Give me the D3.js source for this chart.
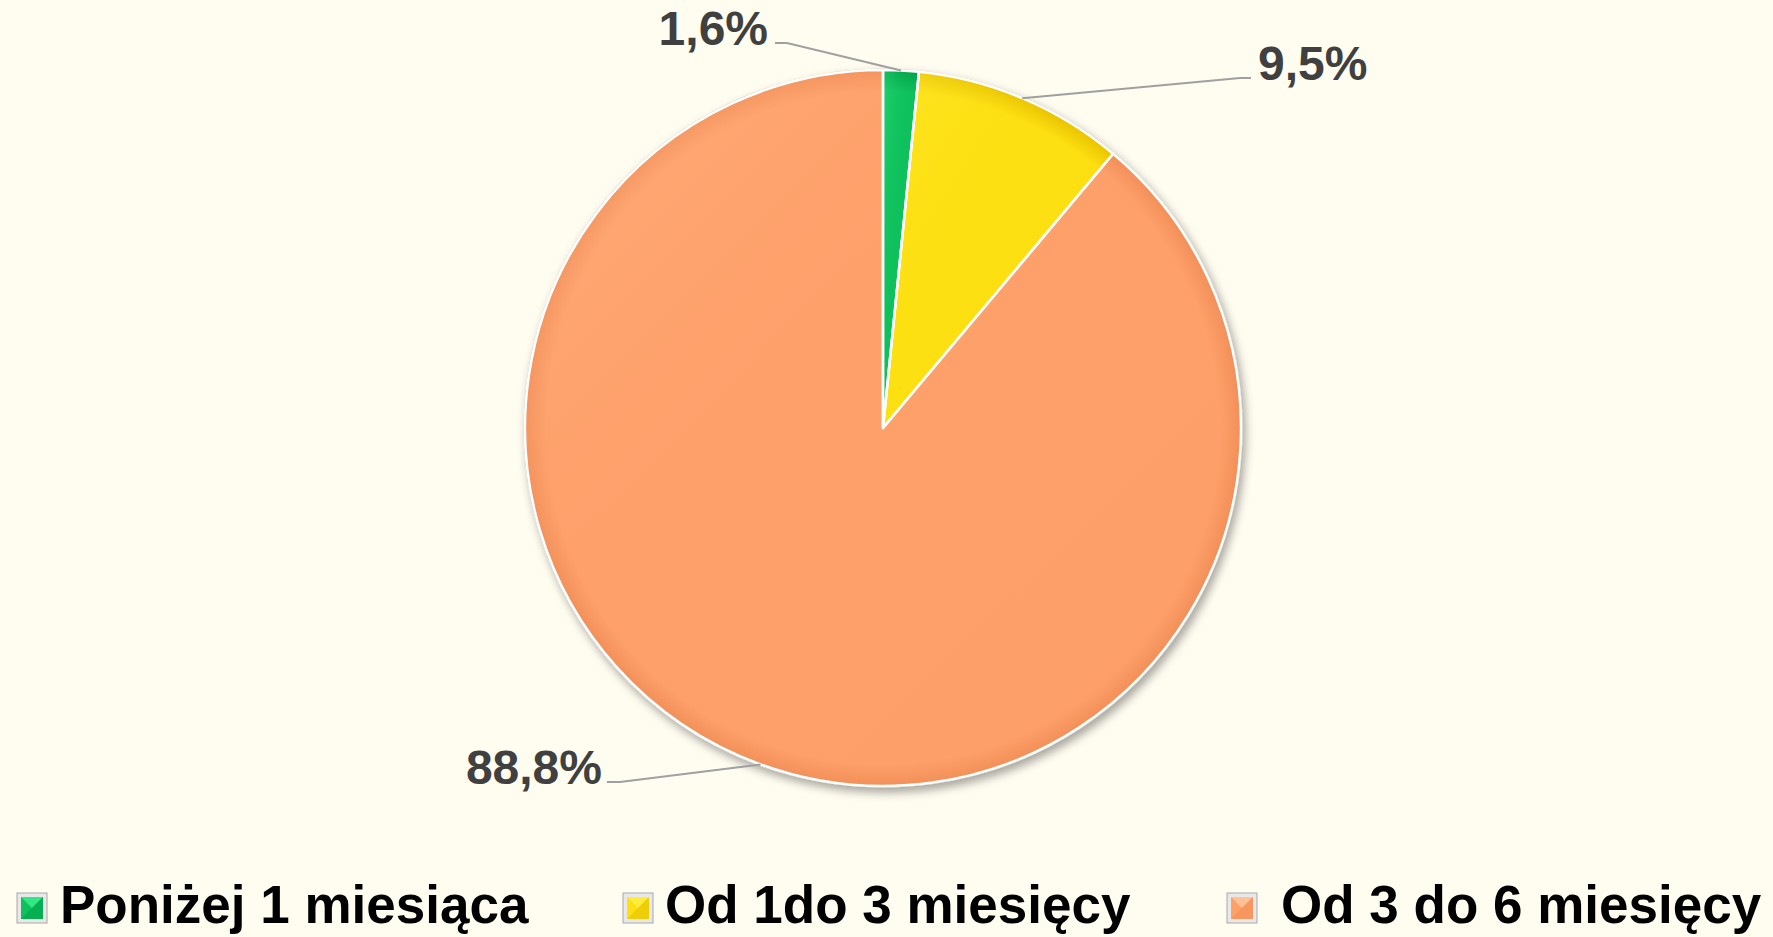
<!DOCTYPE html>
<html>
<head>
<meta charset="utf-8">
<script src="https://cdn.jsdelivr.net/npm/d3@7/dist/d3.min.js"></script>
<style>
html,body{margin:0;padding:0;background:#fffdf0;}
svg{display:block;}
</style>
</head>
<body>
<svg id="chart" width="1773" height="937"></svg>
<script>
// ---- data ----
const categories = ["Poniżej 1 miesiąca", "Od 1do 3 miesięcy", "Od 3 do 6 miesięcy"];
const values = [1.6, 9.5, 88.8];
const valueLabels = ["1,6%", "9,5%", "88,8%"];
const colors = ["#0fc15c", "#fde012", "#fea06a"];
const colorsDark = ["#00a34a", "#e8c200", "#f28f58"];
const colorsLight = ["#3ff08f", "#fff04a", "#ffc9a0"];

// ---- layout ----
const W = 1773, H = 937;
const cx = 883, cy = 428, R = 358;
const svg = d3.select("#chart");
svg.append("rect").attr("width", W).attr("height", H).attr("fill", "#fffdf0");

const defs = svg.append("defs");
const sh = defs.append("filter").attr("id", "shadow").attr("x", "-10%").attr("y", "-10%").attr("width", "120%").attr("height", "120%");
sh.append("feDropShadow").attr("dx", 3).attr("dy", 5).attr("stdDeviation", 5).attr("flood-color", "#000").attr("flood-opacity", 0.35);

values.forEach((v, i) => {
  const g = defs.append("radialGradient").attr("id", "rg" + i)
    .attr("gradientUnits", "userSpaceOnUse").attr("cx", 0).attr("cy", 0).attr("r", R);
  g.append("stop").attr("offset", "0%").attr("stop-color", colors[i]);
  g.append("stop").attr("offset", "94%").attr("stop-color", colors[i]);
  g.append("stop").attr("offset", "100%").attr("stop-color", colorsDark[i]);
  const lg = defs.append("linearGradient").attr("id", "lg" + i)
    .attr("x1", "0%").attr("y1", "0%").attr("x2", "100%").attr("y2", "100%");
  lg.append("stop").attr("offset", "0%").attr("stop-color", colorsLight[i]).attr("stop-opacity", 0.35);
  lg.append("stop").attr("offset", "45%").attr("stop-color", colors[i]).attr("stop-opacity", 0);
  lg.append("stop").attr("offset", "100%").attr("stop-color", colorsDark[i]).attr("stop-opacity", i === 2 ? 0.15 : 0.45);
});

const pie = d3.pie().sort(null).value(d => d);
const arcs = pie(values);
const arc = d3.arc().innerRadius(0).outerRadius(R);

const pg = svg.append("g").attr("transform", `translate(${cx},${cy})`);

// outer rim + shadow
pg.append("circle").attr("r", R + 1.5).attr("fill", "#c8c8c8").attr("filter", "url(#shadow)");

pg.selectAll("path.slice").data(arcs).enter().append("path")
  .attr("class", "slice")
  .attr("d", arc)
  .attr("fill", (d, i) => `url(#rg${i})`);

pg.selectAll("path.shade").data(arcs).enter().append("path")
  .attr("class", "shade")
  .attr("d", d3.arc().innerRadius(0).outerRadius(R - 1))
  .attr("fill", (d, i) => `url(#lg${i})`);

// white borders between slices
pg.selectAll("path.border").data(arcs).enter().append("path")
  .attr("class", "border")
  .attr("d", arc)
  .attr("fill", "none")
  .attr("stroke", "#ffffff").attr("stroke-width", 2.5).attr("stroke-linejoin", "round");

// ---- labels with leader lines ----
const labelPos = [
  { x: 768, y: 45, anchor: "end", lx: 775, ly: 43, bend: 787 },
  { x: 1258, y: 80, anchor: "start", lx: 1251, ly: 78, bend: 1240 },
  { x: 602, y: 784, anchor: "end", lx: 607, ly: 782, bend: 620 }
];
const outerPt = d => {
  const a = (d.startAngle + d.endAngle) / 2;
  return [cx + R * Math.sin(a), cy - R * Math.cos(a)];
};
arcs.forEach((d, i) => {
  const p = outerPt(d), L = labelPos[i];
  svg.append("path")
    .attr("d", d3.line()([[L.lx, L.ly], [L.bend, L.ly], p]))
    .attr("fill", "none").attr("stroke", "#a0a0a0").attr("stroke-width", 2);
  svg.append("text")
    .attr("x", L.x).attr("y", L.y)
    .attr("text-anchor", L.anchor)
    .attr("font-family", "'Liberation Sans', Arial, sans-serif")
    .attr("font-weight", "bold").attr("font-size", 48)
    .attr("fill", "#404040")
    .text(valueLabels[i]);
});

// ---- legend ----
const legendX = [17, 623, 1227];
const legendTextX = [60, 665, 1281];
const legendBase = 923;
categories.forEach((c, i) => {
  const gx = legendX[i], gy = legendBase - 30;
  const lg = svg.append("g");
  lg.append("rect").attr("x", gx).attr("y", gy).attr("width", 30).attr("height", 30)
    .attr("fill", "#e8e8e8").attr("stroke", "#a8a8a8").attr("stroke-width", 1);
  lg.append("rect").attr("x", gx + 4).attr("y", gy + 4).attr("width", 22).attr("height", 22)
    .attr("fill", colors[i]);
  lg.append("path")
    .attr("d", d3.line()([[gx + 4, gy + 4], [gx + 26, gy + 4], [gx + 15, gy + 15]]))
    .attr("fill", colorsLight[i]).attr("opacity", 0.8);
  lg.append("path")
    .attr("d", d3.line()([[gx + 26, gy + 4], [gx + 26, gy + 26], [gx + 4, gy + 26], [gx + 15, gy + 15]]))
    .attr("fill", colorsDark[i]).attr("opacity", 0.6);
  svg.append("text")
    .attr("x", legendTextX[i]).attr("y", legendBase)
    .attr("font-family", "'Liberation Sans', Arial, sans-serif")
    .attr("font-weight", "bold").attr("font-size", 53)
    .attr("fill", "#000")
    .text(c);
});
</script>
</body>
</html>
